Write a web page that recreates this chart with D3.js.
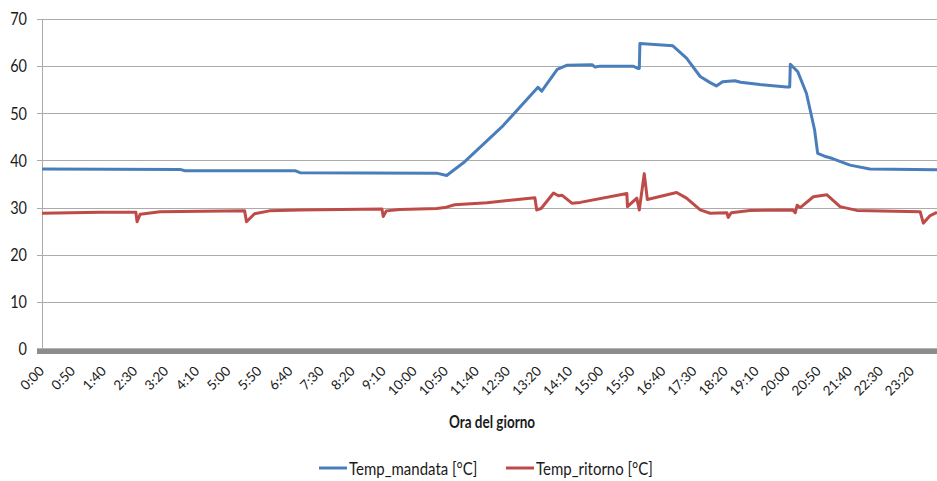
<!DOCTYPE html>
<html>
<head>
<meta charset="utf-8">
<script src="https://cdn.jsdelivr.net/npm/d3@7"></script>
<style>
  html, body { margin: 0; padding: 0; background: #fff; }
  svg { display: block; }
  text { font-family: Lato, "Open Sans", sans-serif; fill: #1a1a1a; }
</style>
</head>
<body>
<svg id="chart" width="937" height="481"></svg>
<script>
// ---- data (time of day "H:MM", temperature °C) ----
const mandataTimes = ["0:00","3:42","3:50","6:48","6:55","10:35","10:51","11:18","12:22","13:18","13:24","13:49","14:05","14:45","14:50","14:58","15:51","15:59","16:01","16:02","16:55","17:17","17:39","17:55","18:05","18:15","18:35","18:44","19:15","19:58","20:03","20:04","20:16","20:30","20:43","20:48","20:59","21:12","21:40","22:12","24:00"];
const mandataValues = [38.2,38.1,37.8,37.8,37.4,37.3,36.8,39.5,47.4,55.5,54.7,59.3,60.2,60.3,59.8,60.0,60.0,59.5,59.5,64.8,64.3,61.7,57.8,56.5,55.8,56.7,56.9,56.6,56.1,55.6,55.6,60.4,58.8,54.2,46.5,41.5,40.9,40.4,39.0,38.2,38.0];

const ritornoTimes = ["0:00","1:34","2:31","2:33","2:38","3:10","5:26","5:29","5:42","6:06","6:55","9:07","9:09","9:14","9:36","10:35","10:48","11:04","11:56","13:13","13:16","13:23","13:43","13:51","13:57","14:13","14:26","15:41","15:42","15:57","16:01","16:09","16:14","17:01","17:17","17:39","17:55","18:22","18:24","18:29","18:59","20:08","20:12","20:15","20:20","20:41","21:03","21:24","21:51","23:33","23:38","23:49","24:00"];
const ritornoValues = [28.8,29.0,29.0,27.0,28.6,29.1,29.3,27.0,28.7,29.3,29.5,29.7,28.1,29.3,29.6,29.8,30.0,30.6,31.0,32.1,29.5,29.8,33.1,32.5,32.6,30.9,31.1,33.0,30.2,32.0,29.5,37.2,31.7,33.2,32.0,29.5,28.8,28.9,27.9,28.9,29.4,29.5,28.9,30.5,30.0,32.3,32.7,30.2,29.4,29.1,26.7,28.3,29.0];

const xTickLabels = ["0:00","0:50","1:40","2:30","3:20","4:10","5:00","5:50","6:40","7:30","8:20","9:10","10:00","10:50","11:40","12:30","13:20","14:10","15:00","15:50","16:40","17:30","18:20","19:10","20:00","20:50","21:40","22:30","23:20"];
const yTicks = [0,10,20,30,40,50,60,70];
const seriesNames = ["Temp_mandata [°C]","Temp_ritorno [°C]"];
const seriesColors = ["#4A7EBB","#BE4B48"];
const xTitle = "Ora del giorno";

// ---- helpers ----
const toMin = s => { const [h,m] = s.split(":").map(Number); return h*60+m; };
const mandata = mandataTimes.map((t,i) => ({t: toMin(t), v: mandataValues[i]}));
const ritorno = ritornoTimes.map((t,i) => ({t: toMin(t), v: ritornoValues[i]}));
const STRETCH = 1.2;

const svg = d3.select("#chart");
const x = d3.scaleLinear().domain([0,1440]).range([42,937]);
const y = d3.scaleLinear().domain([0,70]).range([349,19]);

// gridlines
svg.append("g").selectAll("line").data(yTicks.filter(d => d>0)).join("line")
  .attr("x1", 37).attr("x2", 937)
  .attr("y1", d => Math.round(y(d))+0.5).attr("y2", d => Math.round(y(d))+0.5)
  .attr("stroke", "#ababab").attr("stroke-width", 1);

// y axis line
svg.append("line").attr("x1", 42.5).attr("x2", 42.5).attr("y1", y(70)).attr("y2", y(0))
  .attr("stroke", "#ababab");

// y tick labels
svg.append("g").selectAll("text").data(yTicks).join("text")
  .attr("transform", d => `translate(27,${y(d)}) scale(1,${STRETCH})`)
  .attr("dy", "0.36em")
  .attr("text-anchor", "end").attr("font-size", 14.5)
  .text(d => d);

// thick baseline (0)
svg.append("rect").attr("x", 37).attr("y", y(0)-0.5).attr("width", 900).attr("height", 5.5)
  .attr("fill", "#8c8c8c");
svg.append("line").attr("x1", 37).attr("x2", 937).attr("y1", y(0)-0.5).attr("y2", y(0)-0.5)
  .attr("stroke", "#b5b5b5").attr("stroke-width", 1);

// x tick labels
svg.append("g").selectAll("text").data(xTickLabels).join("text")
  .attr("text-anchor", "end").attr("font-size", 13.5)
  .attr("transform", d => `translate(${x(toMin(d))+3},${372}) rotate(-45)`)
  .text(d => d);

// x title
svg.append("text").attr("transform", `translate(492,428) scale(1,${STRETCH})`)
  .attr("text-anchor", "middle")
  .attr("font-size", 13.5).attr("font-weight", "bold").text(xTitle);

// lines
const line = d3.line().x(d => x(d.t)).y(d => y(d.v));
[mandata, ritorno].forEach((s,i) => {
  svg.append("path").datum(s).attr("d", line)
    .attr("fill", "none").attr("stroke", seriesColors[i])
    .attr("stroke-width", 3).attr("stroke-linejoin", "round");
});

// legend
const legendX = [319, 506];
seriesNames.forEach((n,i) => {
  svg.append("line").attr("x1", legendX[i]).attr("x2", legendX[i]+28)
    .attr("y1", 468).attr("y2", 468).attr("stroke", seriesColors[i]).attr("stroke-width", 3);
  svg.append("text").attr("transform", `translate(${legendX[i]+30},475) scale(1,${STRETCH})`)
    .attr("font-size", 15).text(n);
});
</script>
</body>
</html>
